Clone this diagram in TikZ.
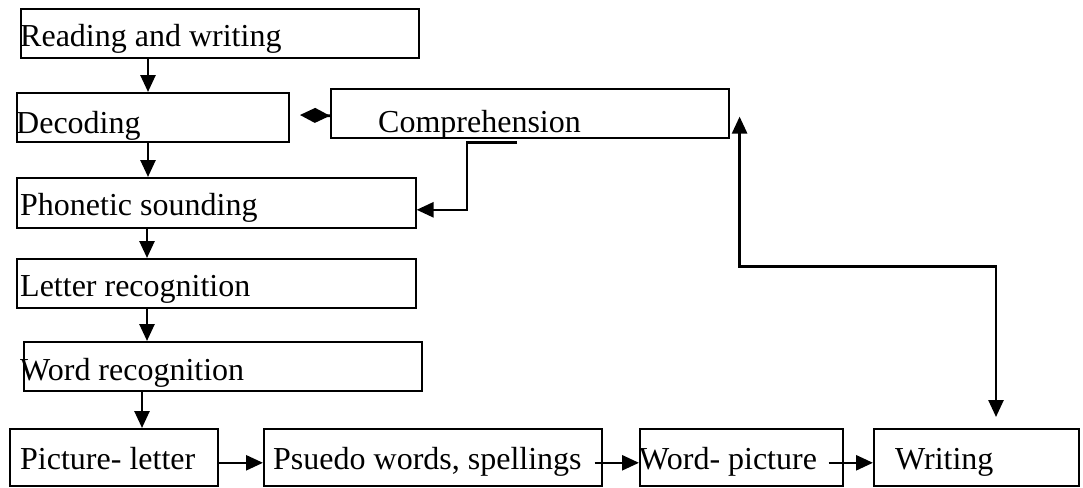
\documentclass[tikz,border=0pt]{standalone}
\usepackage{fontspec}
\setmainfont{Liberation Serif}
\usetikzlibrary{arrows.meta}
\begin{document}
\begin{tikzpicture}[x=1pt,y=-1pt,
  box/.style={draw,line width=1.6pt,inner sep=0pt,anchor=north west},
  lbl/.style={anchor=base west,inner sep=0pt,font=\fontsize{32}{36}\selectfont},
  arr/.style={line width=2.6pt,-{Triangle[length=17pt,width=15pt]}},
  arrtwo/.style={line width=2.6pt,{Triangle[length=17pt,width=15pt]}-{Triangle[length=17pt,width=15pt]}},
  diam/.style={line width=2.6pt,-{Diamond[length=30pt,width=15pt]}}]
\useasboundingbox (0,0) rectangle (1083,487);
% boxes
\node[box,minimum width=398pt,minimum height=49pt] (rw) at (20,8) {};
\node[box,minimum width=272pt,minimum height=49pt] (dec) at (16,92) {};
\node[box,minimum width=398pt,minimum height=49pt] (comp) at (330,88) {};
\node[box,minimum width=399pt,minimum height=50pt] (phon) at (16,177) {};
\node[box,minimum width=399pt,minimum height=49pt] (let) at (16,258) {};
\node[box,minimum width=398pt,minimum height=49pt] (word) at (23,341) {};
\node[box,minimum width=208pt,minimum height=57pt] (pic) at (9,428) {};
\node[box,minimum width=338pt,minimum height=57pt] (pse) at (263,428) {};
\node[box,minimum width=203pt,minimum height=57pt] (wp) at (639,428) {};
\node[box,minimum width=205pt,minimum height=57pt] (wri) at (873,428) {};
% labels
\node[lbl] (trw) at (20,47) {Reading and writing};
\node[lbl] (tdec) at (16,133) {Decoding};
\node[lbl] (tcomp) at (378,132) {Comprehension};
\node[lbl] (tphon) at (20,215) {Phonetic sounding};
\node[lbl] (tlet) at (20,296) {Letter recognition};
\node[lbl] (tword) at (20,380) {Word recognition};
\node[lbl] (tpic) at (20,469) {Picture- letter};
\node[lbl] (tpse) at (273,469) {Psuedo words, spellings};
\node[lbl] (twp) at (639,469) {Word- picture};
\node[lbl] (twri) at (895,469) {Writing};
% vertical chain
\draw[arr] ([xshift=128pt]rw.south west) -- ([xshift=132pt]dec.north west);
\draw[arr] ([xshift=132pt]dec.south west) -- ([xshift=132pt]phon.north west);
\draw[arr] ([xshift=131pt]phon.south west) -- ([xshift=131pt]let.north west);
\draw[arr] ([xshift=131pt]let.south west) -- ([xshift=124pt]word.north west);
\draw[arr] ([xshift=119pt]word.south west) -- ([xshift=133pt]pic.north west);
% diamond between decoding and comprehension
\coordinate (dtip) at (300,115);
\draw[diam] ([yshift=-2.5pt]comp.west) -- (dtip);
% comprehension to phonetic
\coordinate (cstart) at ([xshift=187pt,yshift=-4pt]comp.south west);
\draw[arr] (cstart) -- ++(-50,0) |- ([yshift=-7pt]phon.east);
% bottom row
\draw[arr] ([yshift=-5.5pt]pic.east) -- ([yshift=-5.5pt]pse.west);
\draw[arr] ([xshift=-8pt,yshift=-5.5pt]pse.east) -- ([yshift=-5.5pt]wp.west);
\draw[arr] ([xshift=-15pt,yshift=-5.5pt]wp.east) -- ([yshift=-5.5pt]wri.west);
% writing <-> comprehension
\coordinate (ctop) at ([xshift=10pt,yshift=22pt]comp.south east);
\coordinate (wtop) at ([xshift=123pt,yshift=11pt]wri.north west);
\draw[arrtwo] (ctop) -- ++(0,150) -| (wtop);
\end{tikzpicture}
\end{document}
